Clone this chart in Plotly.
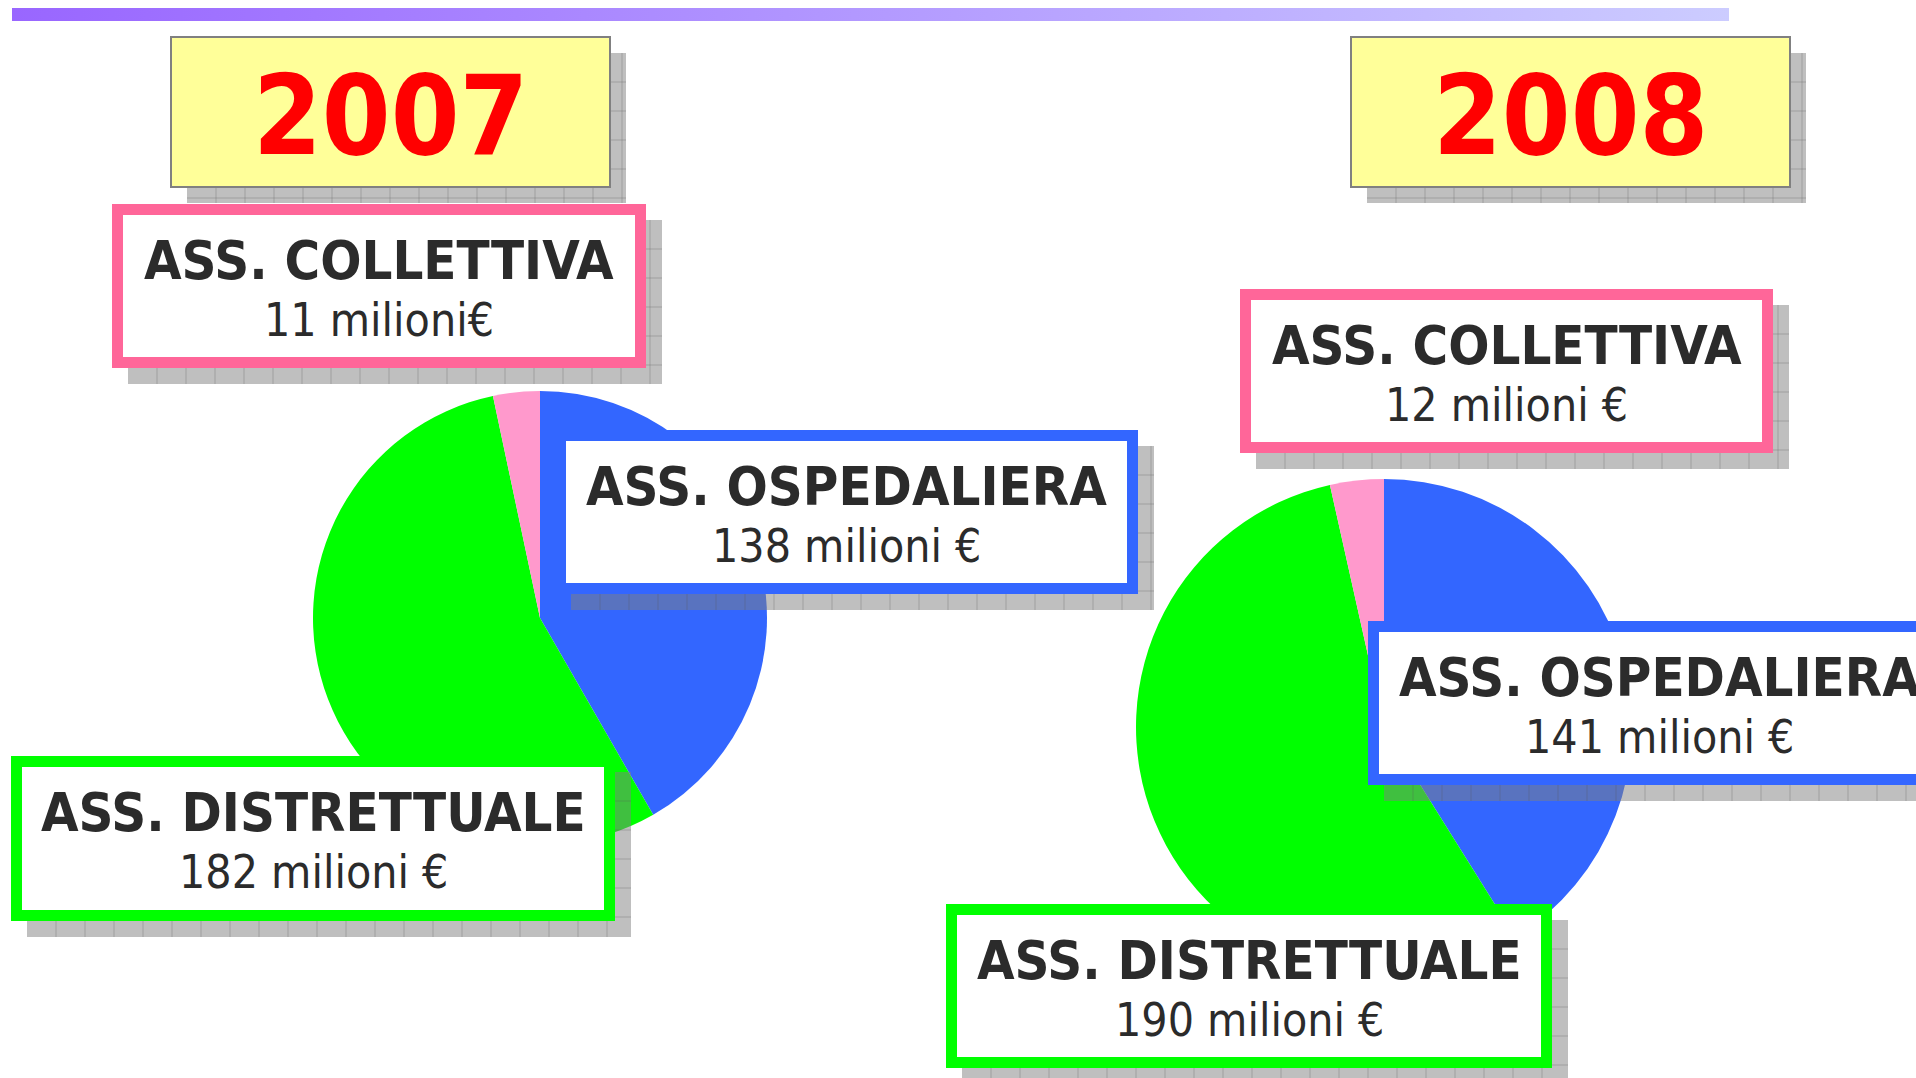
import plotly.graph_objects as go

years = ["2007", "2008"]
categories = ["ASS. OSPEDALIERA", "ASS. DISTRETTUALE", "ASS. COLLETTIVA"]
values_2007 = [138, 182, 11]
values_2008 = [141, 190, 12]
labels_2007 = ["138 milioni €", "182 milioni €", "11 milioni€"]
labels_2008 = ["141 milioni €", "190 milioni €", "12 milioni €"]

slice_colors = ["#3366FF", "#00FF00", "#FF99CC"]
border_colors = ["#3366FF", "#00FF00", "#FF6699"]

W, H = 1916, 1078
FONT = "DejaVu Sans Condensed, DejaVu Sans, sans-serif"
TEXT = "#2B2B2B"
SHADOW = "rgba(128,128,128,0.5)"
OFF = 16  # shadow offset
BORDER = 11
CELL = 29  # shadow texture grid

# layout, pixels from top-left
pies = {"2007": (540, 618, 227), "2008": (1384, 727, 248)}
year_boxes = {"2007": (171, 37, 610, 187), "2008": (1351, 37, 1790, 187)}
label_boxes = {  # outer edges, same order as categories
    "2007": [(555, 430, 1138, 594), (11, 756, 615, 921), (112, 204, 646, 368)],
    "2008": [(1368, 621, 1951, 785), (946, 904, 1552, 1068), (1240, 289, 1773, 453)],
}
values = {"2007": values_2007, "2008": values_2008}
labels = {"2007": labels_2007, "2008": labels_2008}

fig = go.Figure()

# top gradient bar
fig.add_trace(go.Scatter(
    x=[12, 1729, 1729, 12, 12], y=[8, 8, 21, 21, 8],
    mode="lines", fill="toself", line=dict(width=0),
    fillgradient=dict(type="horizontal",
                      colorscale=[[0, "#9966FF"], [1, "#CCCCFF"]]),
    hoverinfo="skip", showlegend=False))

for yr in years:
    cx, cy, r = pies[yr]
    fig.add_trace(go.Pie(
        labels=categories, values=values[yr],
        marker=dict(colors=slice_colors, line=dict(width=0)),
        sort=False, direction="clockwise", rotation=0,
        textinfo="none", hoverinfo="label+value", showlegend=False,
        domain=dict(x=[(cx - r) / W, (cx + r) / W],
                    y=[(H - cy - r) / H, (H - cy + r) / H])))

shapes = []
annotations = []


def rect(x0, y0, x1, y1, fill, line=None):
    return dict(type="rect", xref="x", yref="y", x0=x0, y0=y0, x1=x1, y1=y1,
                fillcolor=fill, layer="above",
                line=dict(width=2 if line else 0, color=line or fill))


def shadow(x0, y0, x1, y1):
    x0, y0, x1, y1 = x0 + OFF, y0 + OFF, x1 + OFF, y1 + OFF
    path = ""
    x = x0 + CELL
    while x < x1:
        path += "M%d,%d V%d " % (x, y0, y1)
        x += CELL
    y = y0 + CELL
    while y < y1:
        path += "M%d,%d H%d " % (x0, y, x1)
        y += CELL
    return [rect(x0, y0, x1, y1, SHADOW),
            dict(type="path", xref="x", yref="y", path=path, layer="above",
                 line=dict(width=1, color="rgba(90,90,90,0.3)"))]


for yr in years:
    x0, y0, x1, y1 = year_boxes[yr]
    shapes += shadow(x0, y0, x1, y1)
    shapes.append(rect(x0, y0, x1, y1, "#FFFF99", "#808080"))
    annotations.append(dict(
        x=(x0 + x1) / 2, y=(y0 + y1) / 2 + 4, text="<b>%s</b>" % yr,
        font=dict(family=FONT, size=110, color="#FF0000")))

    for i, cat in enumerate(categories):
        x0, y0, x1, y1 = label_boxes[yr][i]
        shapes += shadow(x0, y0, x1, y1)
        shapes.append(rect(x0, y0, x1, y1, border_colors[i]))
        shapes.append(rect(x0 + BORDER, y0 + BORDER, x1 - BORDER, y1 - BORDER, "white"))
        xc = (x0 + x1) / 2
        annotations.append(dict(x=xc, y=y0 + 56, text="<b>%s</b>" % cat,
                                font=dict(family=FONT, size=54, color=TEXT)))
        annotations.append(dict(x=xc, y=y0 + 116, text=labels[yr][i],
                                font=dict(family=FONT, size=46, color=TEXT)))

for a in annotations:
    a.update(xref="x", yref="y", showarrow=False, xanchor="center", yanchor="middle")

fig.update_layout(
    width=W, height=H,
    margin=dict(l=0, r=0, t=0, b=0),
    paper_bgcolor="white", plot_bgcolor="white",
    xaxis=dict(range=[0, W], visible=False, fixedrange=True),
    yaxis=dict(range=[H, 0], visible=False, fixedrange=True),
    shapes=shapes, annotations=annotations,
)

fig.write_html("out.html", config=dict(displayModeBar=False),
               post_script="document.body.style.margin='0';document.body.style.overflow='hidden';")
